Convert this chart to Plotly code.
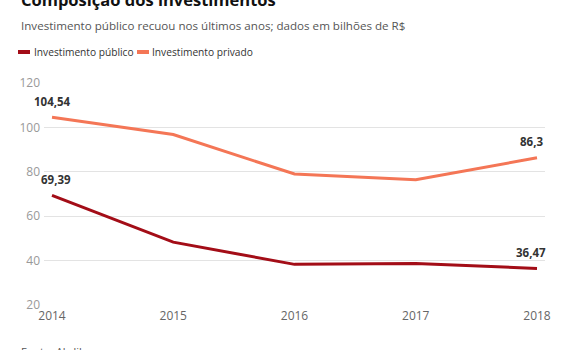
import plotly.graph_objects as go

years = [2014, 2015, 2016, 2017, 2018]
publico = [69.39, 48.3, 38.3, 38.7, 36.47]
privado = [104.54, 96.8, 79.0, 76.4, 86.3]
y_ticks = [20, 40, 60, 80, 100, 120]

RED = "#a30d17"
SALMON = "#f47656"
FONT = "Open Sans, sans-serif"

W, H = 584, 350
L, R, T, B = 44, 39, 83, 45
PW, PH = W - L - R, H - T - B

def px_x(px):
    return (px - L) / PW

def px_y(py):
    return (H - B - py) / PH

fig = go.Figure()
fig.add_trace(go.Scatter(x=years, y=publico, mode="lines", name="Investimento público",
                         line=dict(color=RED, width=3), showlegend=False))
fig.add_trace(go.Scatter(x=years, y=privado, mode="lines", name="Investimento privado",
                         line=dict(color=SALMON, width=3), showlegend=False))

def fmt(v):
    s = ("%.2f" % v).rstrip("0").rstrip(".")
    return s.replace(".", ",")

label_shift = {("pub", 0): 4, ("pub", 4): -6, ("priv", 0): 0, ("priv", 4): -6}

annotations = []
for key, series in (("pub", publico), ("priv", privado)):
    for i in (0, len(years) - 1):
        annotations.append(dict(x=years[i], y=series[i], xref="x", yref="y",
                                text="<b>" + fmt(series[i]) + "</b>", showarrow=False,
                                yshift=16, xshift=label_shift[(key, i)],
                                font=dict(family=FONT, size=11.5, color="#333333")))

annotations.append(dict(x=px_x(19), y=px_y(-1), xref="paper", yref="paper", xanchor="left",
                        yanchor="middle", showarrow=False,
                        text="<b>Composição dos investimentos</b>",
                        font=dict(family=FONT, size=16.5, color="#111111")))
annotations.append(dict(x=px_x(19), y=px_y(26), xref="paper", yref="paper", xanchor="left",
                        yanchor="middle", showarrow=False,
                        text="Investimento público recuou nos últimos anos; dados em bilhões de R$",
                        font=dict(family=FONT, size=11.6, color="#555555")))
annotations.append(dict(x=px_x(32), y=px_y(52), xref="paper", yref="paper", xanchor="left",
                        yanchor="middle", showarrow=False, text="Investimento público",
                        font=dict(family=FONT, size=10.2, color="#333333")))
annotations.append(dict(x=px_x(150), y=px_y(52), xref="paper", yref="paper", xanchor="left",
                        yanchor="middle", showarrow=False, text="Investimento privado",
                        font=dict(family=FONT, size=10.2, color="#333333")))
annotations.append(dict(x=px_x(19), y=px_y(351), xref="paper", yref="paper", xanchor="left",
                        yanchor="middle", showarrow=False, text="Fonte: Abdib",
                        font=dict(family=FONT, size=11, color="#555555")))

shapes = [
    dict(type="line", xref="paper", yref="paper", x0=px_x(18), x1=px_x(30),
         y0=px_y(52), y1=px_y(52), line=dict(color=RED, width=4)),
    dict(type="line", xref="paper", yref="paper", x0=px_x(137), x1=px_x(149),
         y0=px_y(52), y1=px_y(52), line=dict(color=SALMON, width=4)),
]

pad = 8 / ((PW - 16) / 4)
fig.update_layout(
    width=W, height=H, margin=dict(l=L, r=R, t=T, b=B),
    paper_bgcolor="white", plot_bgcolor="white",
    annotations=annotations, shapes=shapes,
    xaxis=dict(range=[2014 - pad, 2018 + pad], tickvals=years, ticktext=[str(y) for y in years],
               showgrid=False, zeroline=False, showline=False, ticks="",
               ticklabelstandoff=2,
               tickfont=dict(family=FONT, size=12, color="#666666")),
    yaxis=dict(range=[20, 120], tickvals=y_ticks, showgrid=True, gridcolor="#e3e3e3",
               gridwidth=1, zeroline=False, showline=False, ticks="",
               ticklabelstandoff=3,
               tickfont=dict(family=FONT, size=12, color="#999999")),
)

fig.write_html("out.html")
